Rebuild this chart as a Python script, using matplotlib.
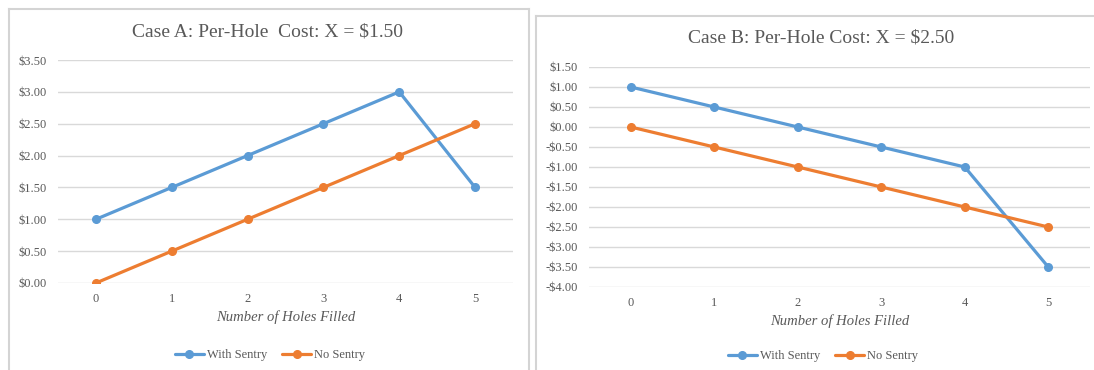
import matplotlib
matplotlib.use("Agg")
import matplotlib.pyplot as plt
from matplotlib.lines import Line2D
from matplotlib.ticker import FuncFormatter, MultipleLocator

plt.rcParams['font.family'] = ['Liberation Serif', 'DejaVu Serif']

holes = [0, 1, 2, 3, 4, 5]

case_a_title = "Case A: Per-Hole  Cost: X = $1.50"
case_a_with = [1.0, 1.5, 2.0, 2.5, 3.0, 1.5]
case_a_without = [0.0, 0.5, 1.0, 1.5, 2.0, 2.5]

case_b_title = "Case B: Per-Hole Cost: X = $2.50"
case_b_with = [1.0, 0.5, 0.0, -0.5, -1.0, -3.5]
case_b_without = [0.0, -0.5, -1.0, -1.5, -2.0, -2.5]

series_names = ["With Sentry", "No Sentry"]

W, H = 1094, 370
BLUE = "#5B9BD5"
ORANGE = "#ED7D31"
TEXT = "#595959"
GRID = "#D9D9D9"
FRAME = "#D4D4D4"

fig = plt.figure(figsize=(W / 100, H / 100), dpi=100)


def px_axes(x0, x1, ytop, ybot):
    return fig.add_axes([x0 / W, 1 - ybot / H, (x1 - x0) / W, (ybot - ytop) / H])


def money(v, pos):
    if v < 0:
        return "-${:.2f}".format(-v)
    return "${:.2f}".format(abs(v))


def draw_case(ax, title, with_vals, without_vals, ylim, title_xy, legend_xy):
    ax.plot(holes, with_vals, color=BLUE, lw=2.3, marker="o", ms=5.5,
            solid_capstyle="round", label=series_names[0], zorder=3)
    ax.plot(holes, without_vals, color=ORANGE, lw=2.3, marker="o", ms=5.5,
            solid_capstyle="round", label=series_names[1], zorder=3)
    ax.set_xlim(-0.5, 5.5)
    ax.set_ylim(*ylim)
    ax.set_xticks(holes)
    ax.yaxis.set_major_locator(MultipleLocator(0.5))
    ax.yaxis.set_major_formatter(FuncFormatter(money))
    ax.grid(axis="y", color=GRID, lw=1.0)
    ax.set_axisbelow(True)
    for s in ax.spines.values():
        s.set_visible(False)
    ax.tick_params(length=0, labelsize=9, colors=TEXT)
    ax.tick_params(axis="y", pad=8)
    ax.tick_params(axis="x", pad=7)
    ax.set_xlabel("Number of Holes Filled", fontsize=10.5, style="italic",
                  color=TEXT, labelpad=4)
    fig.text(title_xy[0] / W, 1 - title_xy[1] / H, title, fontsize=14,
             color=TEXT, ha="center", va="center")
    leg = fig.legend(handles=ax.get_lines(), loc="center",
                     bbox_to_anchor=(legend_xy[0] / W, 1 - legend_xy[1] / H),
                     ncol=2, frameon=False, fontsize=9, handlelength=2.3,
                     handletextpad=0.25, columnspacing=1.2)
    for t in leg.get_texts():
        t.set_color(TEXT)


ax_a = px_axes(58, 513, 60, 283)
draw_case(ax_a, case_a_title, case_a_with, case_a_without, (0, 3.5),
          (268, 32), (270, 355))

ax_b = px_axes(589, 1090, 67, 287)
draw_case(ax_b, case_b_title, case_b_with, case_b_without, (-4.0, 1.5),
          (821, 38), (823, 356))

# chart frames
def hline(x0, x1, y):
    fig.add_artist(Line2D([x0 / W, x1 / W], [1 - y / H, 1 - y / H],
                          color=FRAME, lw=1.5))


def vline(x, y0, y1):
    fig.add_artist(Line2D([x / W, x / W], [1 - y0 / H, 1 - y1 / H],
                          color=FRAME, lw=1.5))


hline(8.5, 528.5, 8.5)
vline(8.5, 8.5, 372)
vline(528.5, 8.5, 372)
hline(536, 1096, 16)
vline(536, 16, 372)

fig.savefig("out.png", dpi=100, facecolor="white")
